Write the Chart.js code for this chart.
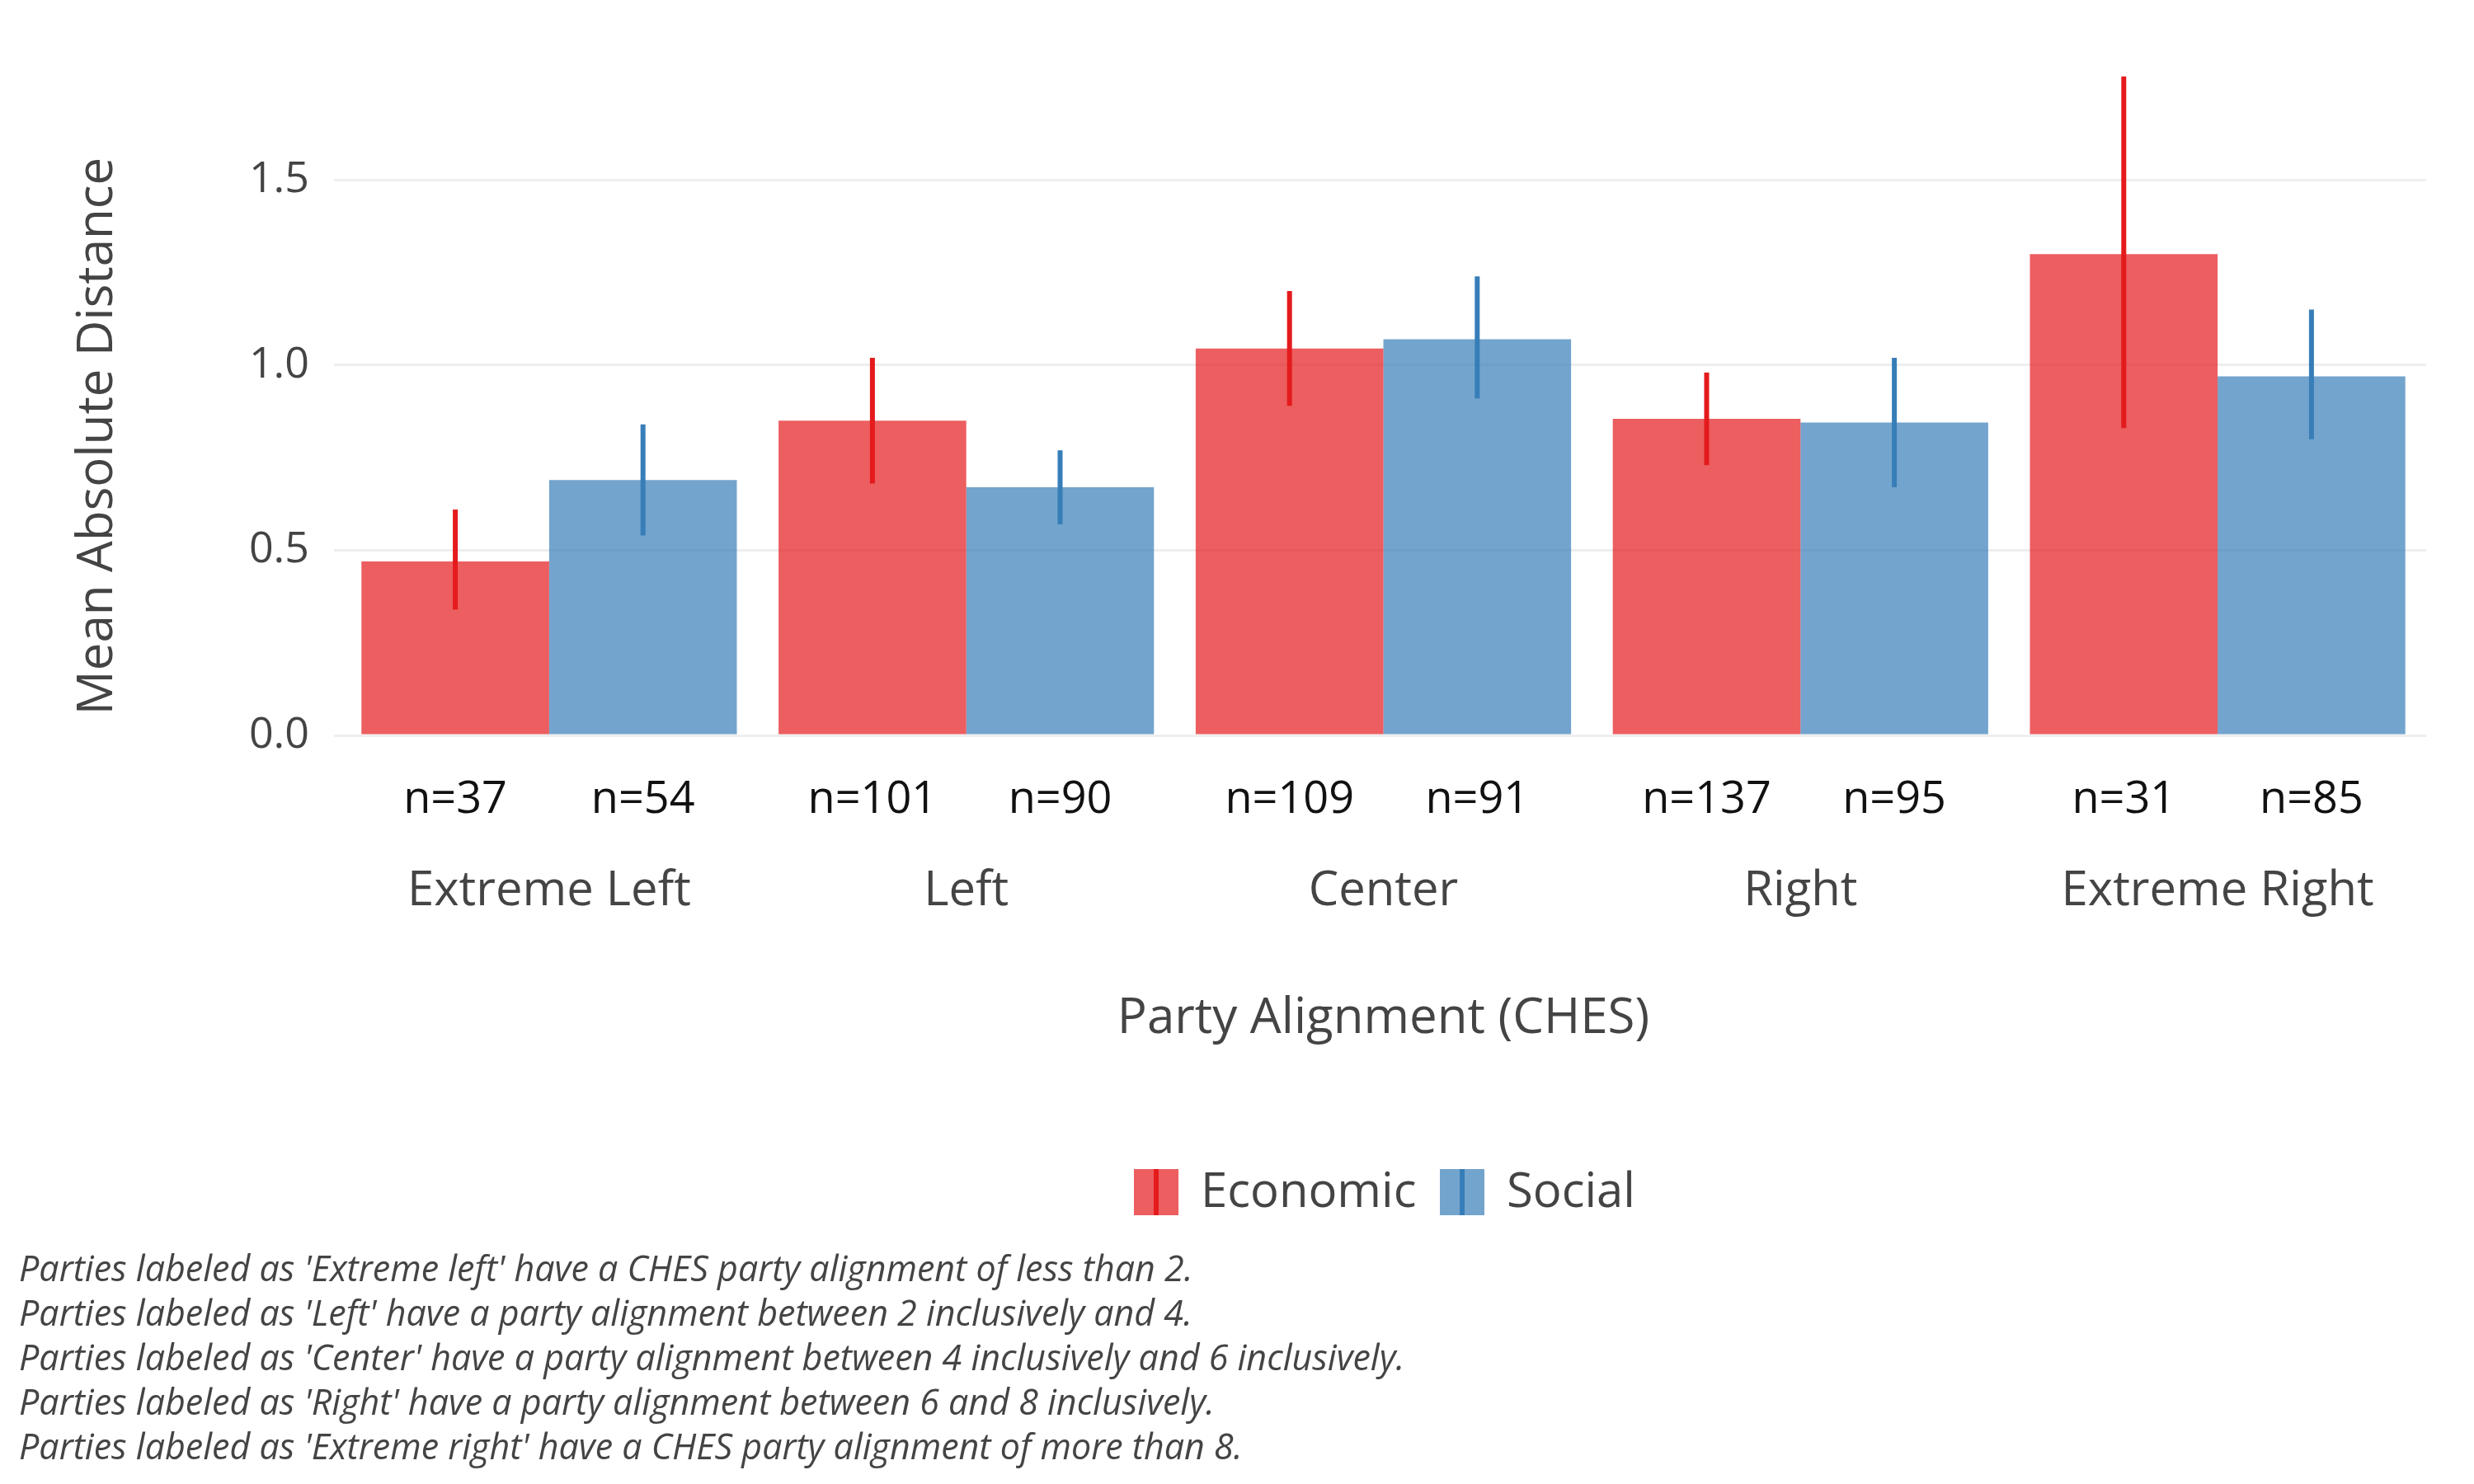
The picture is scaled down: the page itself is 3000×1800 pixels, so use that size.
<!DOCTYPE html>
<html>
<head>
<meta charset="utf-8">
<script src="https://cdn.jsdelivr.net/npm/chart.js@4"></script>
<style>
  body { margin: 0; background: #fff; }
  canvas { display: block; }
</style>
</head>
<body>
<canvas id="chart" width="3000" height="1800"></canvas>
<script>
// ===== DATA =====
const categories = ['Extreme Left', 'Left', 'Center', 'Right', 'Extreme Right'];
const economicValues = [0.47, 0.85, 1.045, 0.855, 1.30];
const economicLow = [0.34, 0.68, 0.89, 0.73, 0.83];
const economicHigh = [0.61, 1.02, 1.20, 0.98, 1.78];
const economicN = [37, 101, 109, 137, 31];
const socialValues = [0.69, 0.67, 1.07, 0.845, 0.97];
const socialLow = [0.54, 0.57, 0.91, 0.67, 0.80];
const socialHigh = [0.84, 0.77, 1.24, 1.02, 1.15];
const socialN = [54, 90, 91, 95, 85];
const yTicks = [0, 0.5, 1.0, 1.5];
const footnotes = [
    "Parties labeled as 'Extreme left' have a CHES party alignment of less than 2.",
    "Parties labeled as 'Left' have a party alignment between 2 inclusively and 4.",
    "Parties labeled as 'Center' have a party alignment between 4 inclusively and 6 inclusively.",
    "Parties labeled as 'Right' have a party alignment between 6 and 8 inclusively.",
    "Parties labeled as 'Extreme right' have a CHES party alignment of more than 8."
];

const RED = '#e41a1c', BLUE = '#377eb8';
const FONT = '"Open Sans", "Noto Sans", sans-serif';

// ===== ERROR BARS + ANNOTATIONS =====
const extrasPlugin = {
    id: 'extras',
    afterDatasetsDraw(chart) {
        const ctx = chart.ctx;
        const y = chart.scales.y;
        const errs = [[economicLow, economicHigh, RED], [socialLow, socialHigh, BLUE]];
        errs.forEach(([lo, hi, col], di) => {
            const meta = chart.getDatasetMeta(di);
            meta.data.forEach((bar, i) => {
                ctx.save();
                ctx.strokeStyle = col;
                ctx.lineWidth = 6;
                ctx.beginPath();
                ctx.moveTo(bar.x, y.getPixelForValue(lo[i]));
                ctx.lineTo(bar.x, y.getPixelForValue(hi[i]));
                ctx.stroke();
                ctx.restore();
            });
        });
    },
    afterDraw(chart) {
        const ctx = chart.ctx;
        const area = chart.chartArea;
        const x = chart.scales.x;
        ctx.save();
        ctx.textAlign = 'center';
        ctx.textBaseline = 'middle';
        // n labels
        ctx.fillStyle = '#111';
        ctx.font = '54px ' + FONT;
        [economicN, socialN].forEach((ns, di) => {
            chart.getDatasetMeta(di).data.forEach((bar, i) => {
                ctx.fillText('n=' + ns[i], bar.x, 971);
            });
        });
        // category labels
        ctx.fillStyle = '#444';
        ctx.font = '58px ' + FONT;
        categories.forEach((c, i) => ctx.fillText(c, x.getPixelForValue(i), 1081));
        // x title
        ctx.font = '60px ' + FONT;
        ctx.fillText('Party Alignment (CHES)', (area.left + area.right) / 2, 1236);
        // y title
        ctx.save();
        ctx.translate(119, 529);
        ctx.rotate(-Math.PI / 2);
        ctx.fillText('Mean Absolute Distance', 0, 0);
        ctx.restore();
        // legend
        const legend = [['Economic', 'rgba(228,26,28,0.7)', RED, 1375], ['Social', 'rgba(55,126,184,0.7)', BLUE, 1746]];
        ctx.textAlign = 'left';
        ctx.font = '58px ' + FONT;
        legend.forEach(([label, fill, line, lx]) => {
            ctx.fillStyle = fill;
            ctx.fillRect(lx, 1418, 54, 56);
            ctx.strokeStyle = line;
            ctx.lineWidth = 6;
            ctx.beginPath();
            ctx.moveTo(lx + 27, 1418);
            ctx.lineTo(lx + 27, 1474);
            ctx.stroke();
            ctx.fillStyle = '#444';
            ctx.fillText(label, lx + 81, 1447);
        });
        // footnotes
        ctx.font = 'italic 43px ' + FONT;
        footnotes.forEach((t, i) => ctx.fillText(t, 23, 1542 + i * 54));
        ctx.restore();
    }
};

new Chart(document.getElementById('chart'), {
    type: 'bar',
    data: {
        labels: categories,
        datasets: [
            { label: 'Economic', data: economicValues, backgroundColor: 'rgba(228,26,28,0.7)' },
            { label: 'Social', data: socialValues, backgroundColor: 'rgba(55,126,184,0.7)' }
        ]
    },
    options: {
        responsive: false,
        animation: false,
        layout: { padding: { left: 0, right: 58, top: 35, bottom: 900 } },
        datasets: { bar: { categoryPercentage: 0.9, barPercentage: 1.0 } },
        plugins: { legend: { display: false }, tooltip: { enabled: false } },
        scales: {
            x: {
                grid: { display: false },
                border: { display: false },
                ticks: { display: false }
            },
            y: {
                min: 0,
                max: 1.85,
                afterFit: s => { s.width = 413; },
                afterBuildTicks: s => { s.ticks = yTicks.map(v => ({ value: v })); },
                grid: { color: '#eeeeee', lineWidth: 3 },
                border: { display: false },
                ticks: {
                    color: '#444',
                    font: { family: FONT, size: 52 },
                    padding: 30,
                    callback: v => v.toFixed(1)
                }
            }
        }
    },
    plugins: [extrasPlugin]
});
</script>
</body>
</html>
